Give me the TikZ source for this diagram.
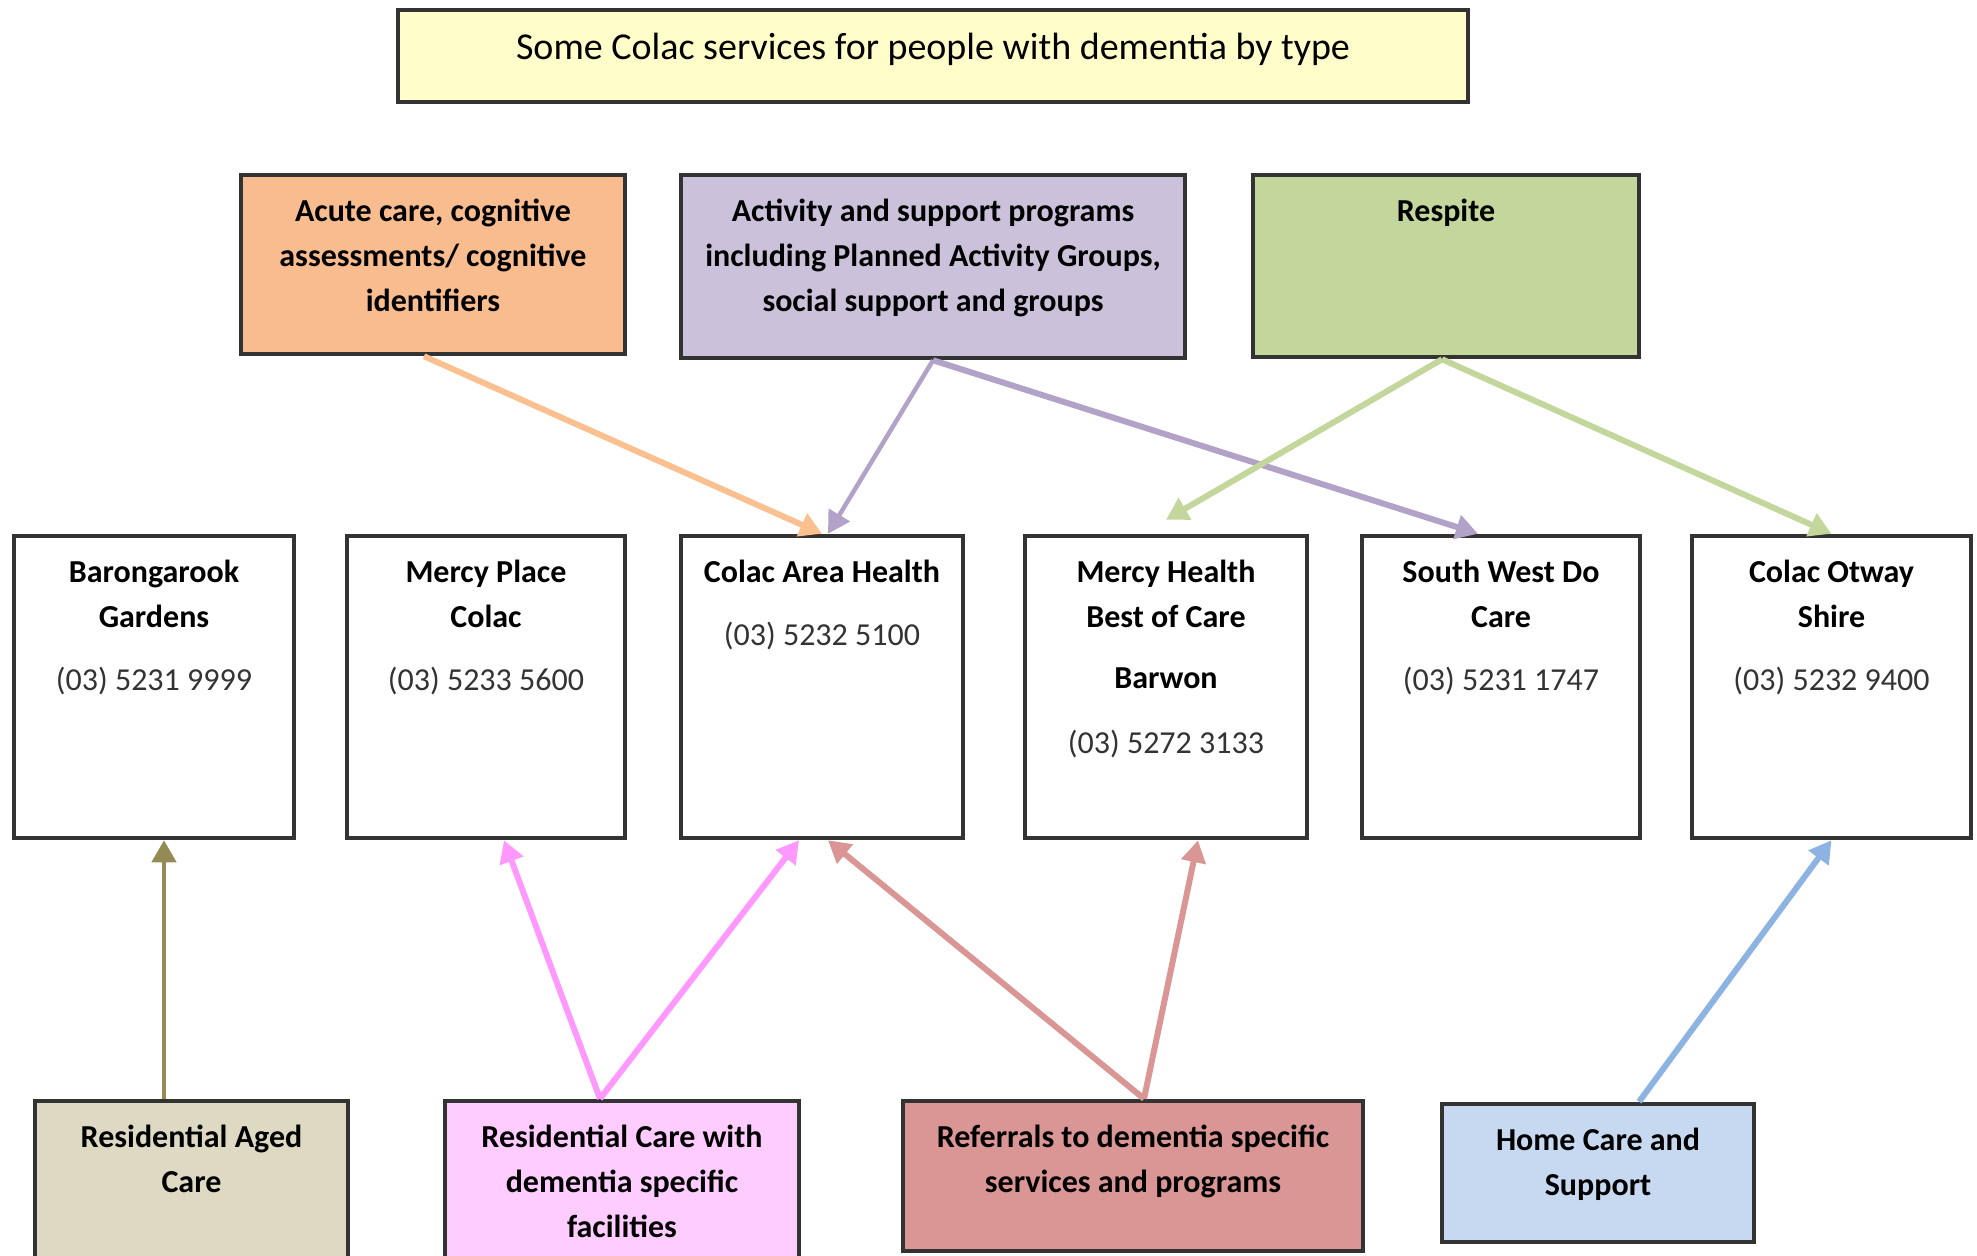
\documentclass[tikz,border=0pt]{standalone}
\usepackage{fontspec}
\setmainfont{Carlito}
\usetikzlibrary{arrows.meta}
\definecolor{titlefill}{HTML}{FFFDC9}
\definecolor{acutefill}{HTML}{F8BC8E}
\definecolor{actfill}{HTML}{CCC1DA}
\definecolor{respfill}{HTML}{C3D69B}
\definecolor{agedfill}{HTML}{DDD9C3}
\definecolor{rcarefill}{HTML}{FFCCFF}
\definecolor{reffill}{HTML}{DA9694}
\definecolor{homefill}{HTML}{C6D9F1}
\definecolor{acutearr}{HTML}{FAC090}
\definecolor{actarr}{HTML}{B3A2C7}
\definecolor{resparr}{HTML}{C3D69B}
\definecolor{agedarr}{HTML}{948A54}
\definecolor{rcarearr}{HTML}{FF99FF}
\definecolor{refarr}{HTML}{D99694}
\definecolor{homearr}{HTML}{8DB3E2}
\definecolor{border}{HTML}{333333}
\begin{document}
\begin{tikzpicture}[x=0.5pt,y=-0.5pt,
  box/.style={draw=border, line width=2.25pt, rectangle, inner sep=0pt},
  txt/.style={anchor=north, inner sep=0pt, align=center,
    font=\fontsize{16}{22.5}\selectfont\bfseries},
  conn/.style={line width=3pt, -{Triangle[length=11pt,width=12pt]}},
  thinconn/.style={line width=2.25pt, -{Triangle[length=11pt,width=12pt]}}
]
\useasboundingbox (0,0) rectangle (1977,1255);
% title
\node[box, fill=titlefill, minimum width=535pt, minimum height=46pt] (title) at (933,56) {};
\node[anchor=base, inner sep=0pt, font=\fontsize{19}{23}\selectfont] (title-t) at (933,59) {Some Colac services for people with dementia by type};
% top row
\node[box, fill=acutefill, minimum width=192pt, minimum height=89.5pt] (acute) at (433,264.5) {};
\node[txt] (acute-t) at ([yshift=-8.5pt]acute.north) {\strut Acute care, cognitive\\assessments/ cognitive\\identifiers};
\node[box, fill=actfill, minimum width=252pt, minimum height=91.5pt] (act) at (933,266.5) {};
\node[txt] (act-t) at ([yshift=-8.5pt]act.north) {\strut Activity and support programs\\including Planned Activity Groups,\\social support and groups};
\node[box, fill=respfill, minimum width=193pt, minimum height=91pt] (resp) at (1446,266) {};
\node[txt] (resp-t) at ([yshift=-8.5pt]resp.north) {\strut Respite};
% middle row
\node[box, fill=white, minimum width=140pt, minimum height=151pt] (baron) at (154,687) {};
\node[txt] (baron-t) at ([yshift=-8.5pt]baron.north) {\strut Barongarook\\Gardens\\[9pt]{\mdseries\color{black!80}(03) 5231 9999}};
\node[box, fill=white, minimum width=139pt, minimum height=151pt] (mplace) at (486,687) {};
\node[txt] (mplace-t) at ([yshift=-8.5pt]mplace.north) {\strut Mercy Place\\Colac\\[9pt]{\mdseries\color{black!80}(03) 5233 5600}};
\node[box, fill=white, minimum width=141pt, minimum height=151pt] (cah) at (822,687) {};
\node[txt] (cah-t) at ([yshift=-8.5pt]cah.north) {\strut Colac Area Health\\[9pt]{\mdseries\color{black!80}(03) 5232 5100}};
\node[box, fill=white, minimum width=141pt, minimum height=151pt] (mh) at (1166,687) {};
\node[txt] (mh-t) at ([yshift=-8.5pt]mh.north) {\strut Mercy Health\\Best of Care\\[8pt]Barwon\\[10pt]{\mdseries\color{black!80}(03) 5272 3133}};
\node[box, fill=white, minimum width=139pt, minimum height=151pt] (swdc) at (1501,687) {};
\node[txt] (swdc-t) at ([yshift=-8.5pt]swdc.north) {\strut South West Do\\Care\\[9pt]{\mdseries\color{black!80}(03) 5231 1747}};
\node[box, fill=white, minimum width=139.5pt, minimum height=151pt] (cos) at (1831.5,687) {};
\node[txt] (cos-t) at ([yshift=-8.5pt]cos.north) {\strut Colac Otway\\Shire\\[9pt]{\mdseries\color{black!80}(03) 5232 9400}};
% bottom row
\node[box, fill=agedfill, minimum width=156.5pt, minimum height=82.5pt] (aged) at (191.5,1183.5) {};
\node[txt] (aged-t) at ([yshift=-8.5pt]aged.north) {\strut Residential Aged\\Care};
\node[box, fill=rcarefill, minimum width=177pt, minimum height=82.5pt] (rcare) at (622,1183.5) {};
\node[txt] (rcare-t) at ([yshift=-8.5pt]rcare.north) {\strut Residential Care with\\dementia specific\\facilities};
\node[box, fill=reffill, minimum width=230pt, minimum height=75pt] (ref) at (1133,1176) {};
\node[txt] (ref-t) at ([yshift=-8.5pt]ref.north) {\strut Referrals to dementia specific\\services and programs};
\node[box, fill=homefill, minimum width=156pt, minimum height=69pt] (home) at (1598,1173) {};
\node[txt] (home-t) at ([yshift=-8.5pt]home.north) {\strut Home Care and\\Support};
% connectors from top row
\draw[conn, acutearr] ([xshift=-4.5pt]acute.south) -- (cah.north);
\draw[thinconn, actarr] (act.south) -- ([xshift=3pt]cah.north);
\draw[conn, actarr] (act.south) -- ([xshift=-11.5pt]swdc.north);
\draw[conn, resparr] ([xshift=-2pt]resp.south) -- ([yshift=7pt]mh.north);
\draw[conn, resparr] ([xshift=-2pt]resp.south) -- (cos.north);
% connectors from bottom row
\draw[thinconn, agedarr] ([xshift=-13.75pt]aged.north) -- ([xshift=5pt]baron.south);
\draw[conn, rcarearr] ([xshift=-11pt]rcare.north) -- ([xshift=9pt]mplace.south);
\draw[conn, rcarearr] ([xshift=-11pt]rcare.north) -- ([xshift=-11.5pt]cah.south);
\draw[conn, refarr] ([xshift=5.5pt]ref.north) -- ([xshift=3pt]cah.south);
\draw[conn, refarr] ([xshift=5.5pt]ref.north) -- ([xshift=16pt]mh.south);
\draw[conn, homearr] ([xshift=20.5pt]home.north) -- (cos.south);
\end{tikzpicture}
\end{document}
